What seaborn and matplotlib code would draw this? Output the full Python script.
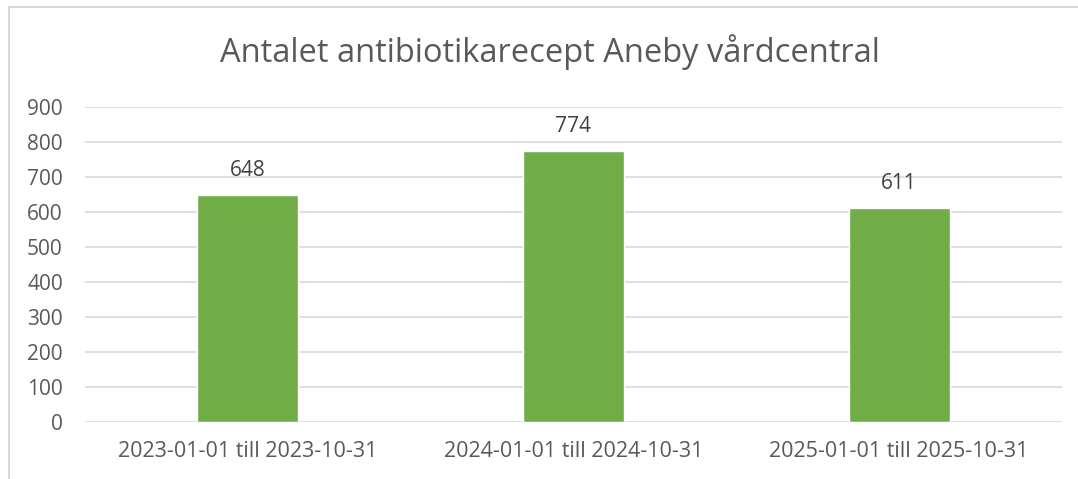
import pandas as pd
import matplotlib.pyplot as plt
import seaborn as sns
from matplotlib.patches import Rectangle

periods = ["2023-01-01 till 2023-10-31", "2024-01-01 till 2024-10-31", "2025-01-01 till 2025-10-31"]
antal = [648, 774, 611]
title = "Antalet antibiotikarecept Aneby vårdcentral"

df = pd.DataFrame({"period": periods, "antal": antal})

sns.set_theme(style="white")
plt.rcParams["font.family"] = ["Open Sans", "DejaVu Sans"]

fig = plt.figure(figsize=(10.78, 4.79), dpi=100)
ax = fig.add_axes([85 / 1078, 1 - 422 / 479, (1062 - 85) / 1078, (422 - 107) / 479])

sns.barplot(data=df, x="period", y="antal", color="#70ad47", width=0.31,
            saturation=1, ax=ax, zorder=3)

ax.set_ylim(0, 900)
ax.set_yticks(range(0, 901, 100))
ax.set_xlim(-0.5, 2.5)
ax.grid(axis="y", color="#d9d9d9", linewidth=1.2, zorder=0)
for s in ax.spines.values():
    s.set_visible(False)
ax.set_xlabel("")
ax.set_ylabel("")
ax.tick_params(axis="both", length=0, labelsize=15, colors="#595959")
ax.tick_params(axis="x", labelsize=15.5, pad=14)
ax.tick_params(axis="y", pad=16)

for i, v in enumerate(antal):
    ax.annotate(str(v), (i, v), xytext=(0, 18), textcoords="offset points",
                ha="center", va="center", fontsize=15, color="#404040")

fig.text(550 / 1078, 1 - 52 / 479, title, ha="center", va="center", fontsize=23.5, color="#595959")

fig.patches.append(Rectangle((9 / 1078, -0.1), 1.2, 1 - 7 / 479 + 0.1, transform=fig.transFigure,
                             fill=False, edgecolor="#d9d9d9", linewidth=1.5))

fig.savefig("out.png", dpi=100)
